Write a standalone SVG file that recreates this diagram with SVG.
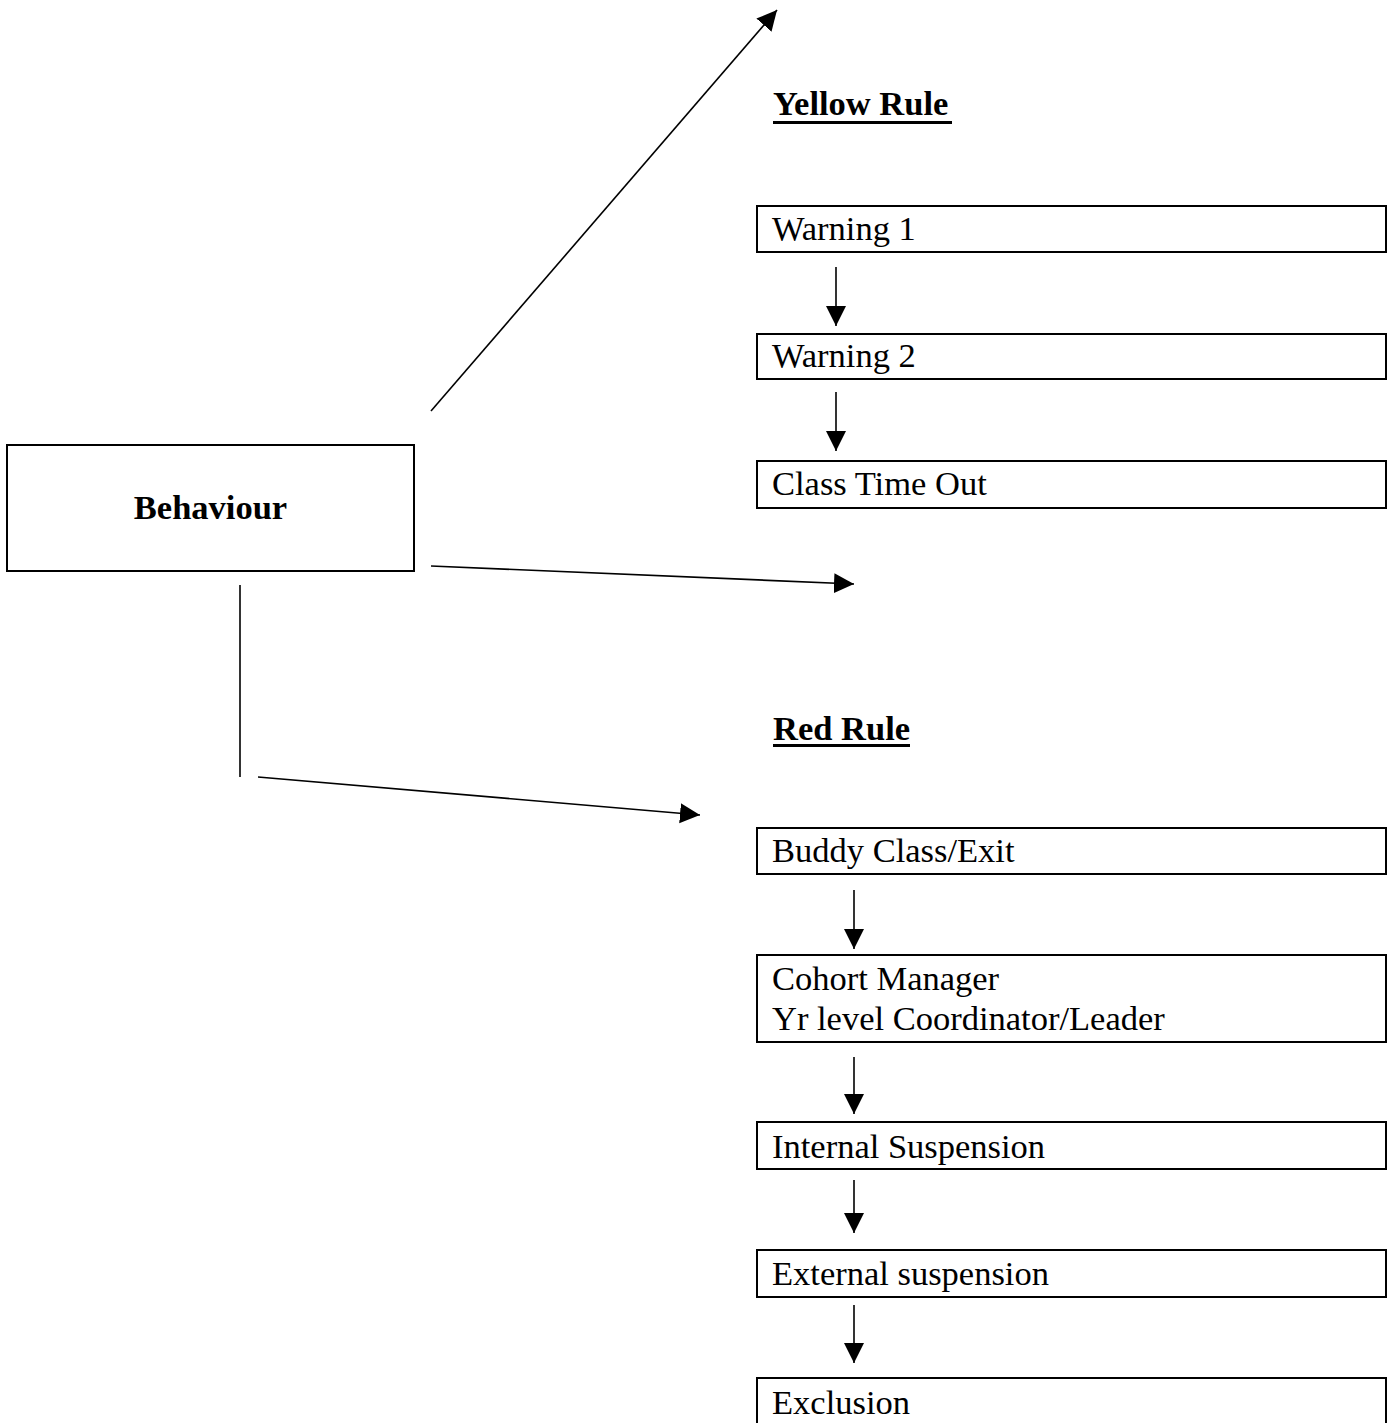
<svg xmlns="http://www.w3.org/2000/svg" width="1397" height="1423" viewBox="0 0 1397 1423">
<style>
.box{fill:#fff;stroke:#000;stroke-width:2}
.t{font-family:"Liberation Serif","Times New Roman",serif;font-size:34.5px;fill:#000}
.b{font-weight:bold}
.c{stroke:#000;stroke-width:1.6;fill:none}
.u{stroke:#000;stroke-width:3}
</style>
<defs>
<marker id="ah" markerUnits="userSpaceOnUse" markerWidth="22" markerHeight="22" refX="20" refY="10" orient="auto" viewBox="0 0 22 22">
<path d="M0,0 L20,10 L0,20 z" fill="#000"/>
</marker>
</defs>
<rect width="1397" height="1423" fill="#fff"/>

<g id="behaviour">
<rect class="box" x="7" y="445" width="407" height="126"/>
<text class="t b" x="210.5" y="519" text-anchor="middle">Behaviour</text>
</g>

<g id="yellow-rule">
<text class="t b" x="773" y="115">Yellow Rule</text>
<line class="u" x1="773" y1="122.5" x2="952" y2="122.5"/>
</g>
<g id="warning1">
<rect class="box" x="757" y="206" width="629" height="46"/>
<text class="t" x="772" y="240">Warning 1</text>
</g>
<g id="warning2">
<rect class="box" x="757" y="334" width="629" height="45"/>
<text class="t" x="772" y="367">Warning 2</text>
</g>
<g id="classtimeout">
<rect class="box" x="757" y="461" width="629" height="47"/>
<text class="t" x="772" y="495">Class Time Out</text>
</g>

<g id="red-rule">
<text class="t b" x="773" y="740">Red Rule</text>
<line class="u" x1="773" y1="745.5" x2="910" y2="745.5"/>
</g>
<g id="buddy">
<rect class="box" x="757" y="828" width="629" height="46"/>
<text class="t" x="772" y="862">Buddy Class/Exit</text>
</g>
<g id="cohort">
<rect class="box" x="757" y="955" width="629" height="87"/>
<text class="t" x="772" y="990">Cohort Manager</text>
<text class="t" x="772" y="1030">Yr level Coordinator/Leader</text>
</g>
<g id="internal">
<rect class="box" x="757" y="1122" width="629" height="47"/>
<text class="t" x="772" y="1158">Internal Suspension</text>
</g>
<g id="external">
<rect class="box" x="757" y="1250" width="629" height="47"/>
<text class="t" x="772" y="1285">External suspension</text>
</g>
<g id="exclusion">
<rect class="box" x="757" y="1378" width="629" height="50"/>
<text class="t" x="772" y="1414">Exclusion</text>
</g>

<g id="connectors">
<line class="c" x1="431" y1="411" x2="777" y2="10" marker-end="url(#ah)"/>
<line class="c" x1="431" y1="566" x2="854" y2="584" marker-end="url(#ah)"/>
<line class="c" x1="240" y1="585" x2="240" y2="777"/>
<line class="c" x1="258" y1="777" x2="700" y2="815" marker-end="url(#ah)"/>
<line class="c" x1="836" y1="267" x2="836" y2="326" marker-end="url(#ah)"/>
<line class="c" x1="836" y1="392" x2="836" y2="451" marker-end="url(#ah)"/>
<line class="c" x1="854" y1="890" x2="854" y2="949" marker-end="url(#ah)"/>
<line class="c" x1="854" y1="1057" x2="854" y2="1114" marker-end="url(#ah)"/>
<line class="c" x1="854" y1="1180" x2="854" y2="1233" marker-end="url(#ah)"/>
<line class="c" x1="854" y1="1305" x2="854" y2="1363" marker-end="url(#ah)"/>
</g>
</svg>
